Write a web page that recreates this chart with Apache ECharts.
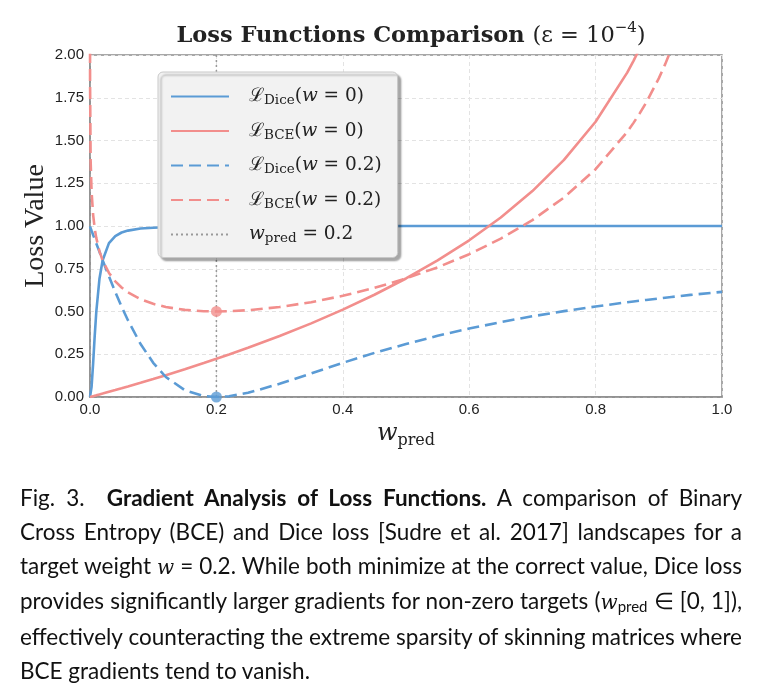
<!DOCTYPE html>
<html>
<head>
<meta charset="utf-8">
<script src="https://cdn.jsdelivr.net/npm/echarts@6/dist/echarts.min.js"></script>
<style>
  html, body { margin: 0; padding: 0; background: #fff; }
  #chart { position: absolute; left: 0; top: 0; width: 760px; height: 683px; }
  #caption {
    position: absolute; left: 20px; top: 481px; width: 722px;
    font-family: Lato, "Open Sans", sans-serif; font-size: 22.5px; line-height: 33.8px; color: #111;
  }
  #caption div { text-align: justify; text-align-last: justify; }
  #caption div.last { text-align-last: left; }
  #caption i { font-family: "DejaVu Serif", serif; font-size: 20px; }
  #caption sub { font-size: 15px; vertical-align: -3px; line-height: 0; }
</style>
</head>
<body>
<div id="chart"></div>
<div id="caption">
  <div>Fig. 3.&nbsp; <b>Gradient Analysis of Loss Functions.</b> A comparison of Binary</div>
  <div>Cross Entropy (BCE) and Dice loss [Sudre et al. 2017] landscapes for a</div>
  <div>target weight <i>w</i> = 0.2. While both minimize at the correct value, Dice loss</div>
  <div>provides significantly larger gradients for non-zero targets (<i>w</i><sub>pred</sub> ∈ [0, 1]),</div>
  <div>effectively counteracting the extreme sparsity of skinning matrices where</div>
  <div class="last">BCE gradients tend to vanish.</div>
</div>
<script>
// predicted weight samples (denser near 0 where curves change fast)
const wPred = [0, 0.0001, 0.001, 0.0025, 0.005, 0.0075, 0.01, 0.015, 0.02, 0.03, 0.04, 0.05, 0.06, 0.08,
  0.1, 0.12, 0.15, 0.18, 0.2, 0.22, 0.25, 0.3, 0.35, 0.4, 0.45, 0.5, 0.55, 0.6, 0.65, 0.7, 0.75, 0.8,
  0.85, 0.86, 0.87, 0.88, 0.9, 0.91, 0.92, 0.95, 1.0];

const diceW0 = [0, 0.0001, 0.0099, 0.059, 0.2, 0.36, 0.5, 0.692, 0.8, 0.9, 0.941, 0.962, 0.973, 0.985,
  0.99, 0.993, 0.996, 0.997, 0.998, 0.998, 0.998, 0.999, 0.999, 0.999, 0.999, 1.0, 1.0, 1.0, 1.0, 1.0, 1.0, 1.0,
  1.0, 1.0, 1.0, 1.0, 1.0, 1.0, 1.0, 1.0, 1.0];

const bceW0 = [0, 0.0001, 0.001, 0.0025, 0.005, 0.0075, 0.01, 0.0151, 0.0202, 0.0305, 0.0408, 0.0513, 0.0619, 0.0834,
  0.1054, 0.1278, 0.1625, 0.1985, 0.2231, 0.2485, 0.2877, 0.3567, 0.4308, 0.5108, 0.5978, 0.6931, 0.7985, 0.9163,
  1.0498, 1.204, 1.3863, 1.6094, 1.8971, 1.9661, 2.0402, 2.1203, 2.3026, 2.4079, 2.5257, 2.9957, 9.21];

const diceW02 = [0.998, 0.9965, 0.9875, 0.9726, 0.9477, 0.9228, 0.898, 0.8487, 0.8, 0.705, 0.614, 0.528, 0.449, 0.31,
  0.2, 0.117, 0.04, 0.0055, 0, 0.0045, 0.0244, 0.0769, 0.138, 0.2, 0.258, 0.31, 0.358, 0.4, 0.438, 0.472, 0.502, 0.529,
  0.554, 0.5587, 0.5632, 0.5677, 0.576, 0.5806, 0.5848, 0.597, 0.615];

const bceW02 = [2.76, 1.842, 1.382, 1.2003, 1.0637, 0.9846, 0.9291, 0.852, 0.7986, 0.7257, 0.6764, 0.6402, 0.6122, 0.5718,
  0.5448, 0.5263, 0.5094, 0.5018, 0.5004, 0.5016, 0.5074, 0.5261, 0.5546, 0.5919, 0.6379, 0.6931, 0.7584, 0.8352,
  0.926, 1.0345, 1.1665, 1.3321, 1.5502, 1.6031, 1.6601, 1.7218, 1.8632, 1.9452, 2.0373, 2.4069, 7.37];

const targetW = 0.2;
const yMax = 2.0;

const BLUE = "#5b9bd5";
const RED = "#f28e8c";

const chart = echarts.init(document.getElementById("chart"));
const pairs = (ys) => wPred.map((x, i) => [x, ys[i]]);
const at = wPred.indexOf(targetW);

const legendText = {
  "dice0": "{l|ℒ}{s|Dice}{l|(}{i|w}{l| = 0)}",
  "bce0": "{l|ℒ}{s|BCE}{l|(}{i|w}{l| = 0)}",
  "dice02": "{l|ℒ}{s|Dice}{l|(}{i|w}{l| = 0.2)}",
  "bce02": "{l|ℒ}{s|BCE}{l|(}{i|w}{l| = 0.2)}",
  "target": "{i|w}{s|pred}{l| = 0.2}",
};

const mathFont = "'DejaVu Serif', serif";
const tickFont = "'Liberation Sans', Arial, sans-serif";

function line(name, ys, color, dashed) {
  return {
    name, type: "line", data: pairs(ys), showSymbol: false, symbol: "none",
    clip: true, z: 3,
    lineStyle: { color, width: 2.6, type: dashed ? [12, 6] : "solid" },
    itemStyle: { color },
  };
}

chart.setOption({
  animation: false,
  title: {
    text: "{b|Loss Functions Comparison }{m|(ε = 10}{p|−4}{m|)}",
    left: 406, top: 16, textAlign: "center",
    textStyle: {
      rich: {
        b: { fontFamily: "'DejaVu Serif', serif", fontWeight: "bold", fontSize: 22.5, color: "#222", lineHeight: 30 },
        m: { fontFamily: mathFont, fontWeight: "normal", fontSize: 22.5, color: "#222", lineHeight: 30 },
        p: { fontFamily: mathFont, fontWeight: "normal", fontSize: 15, color: "#222", verticalAlign: "top", lineHeight: 30, padding: [0, 0, 12, 0] },
      },
    },
  },
  grid: { left: 90, right: 38, top: 55, bottom: 286, show: true, borderColor: "#8c8c8c", borderWidth: 1.5 },
  legend: {
    orient: "vertical", left: 158, top: 72,
    padding: [15, 16, 12, 12], itemGap: 14, itemWidth: 58, itemHeight: 16,
    backgroundColor: "#f2f2f2", borderColor: "#c8c8c8", borderWidth: 1, borderRadius: 5,
    shadowColor: "rgba(0,0,0,0.35)", shadowBlur: 2, shadowOffsetX: 3, shadowOffsetY: 3,
    itemStyle: { opacity: 0 },
    data: ["dice0", "bce0", "dice02", "bce02", "target"],
    formatter: (n) => legendText[n],
    textStyle: {
      padding: [0, 0, 0, 15],
      rich: {
        l: { fontFamily: mathFont, fontSize: 18.5, color: "#222", lineHeight: 22 },
        i: { fontFamily: mathFont, fontStyle: "italic", fontSize: 18.5, color: "#222", lineHeight: 22 },
        s: { fontFamily: mathFont, fontSize: 13.5, color: "#222", verticalAlign: "bottom", lineHeight: 22, padding: [6, 0, 0, 0] },
      },
    },
  },
  xAxis: {
    type: "value", min: 0, max: 1, interval: 0.2,
    name: "{i|w}{s|pred}", nameLocation: "middle", nameGap: 22, nameMoveOverlap: false,
    nameTextStyle: {
      rich: {
        i: { fontFamily: mathFont, fontStyle: "italic", fontSize: 24, color: "#222", lineHeight: 30 },
        s: { fontFamily: mathFont, fontSize: 16, color: "#222", verticalAlign: "bottom", lineHeight: 30, padding: [10, 0, 0, 0] },
      },
    },
    axisLine: { show: true, lineStyle: { color: "#8c8c8c", width: 1.5 } },
    axisTick: { show: false },
    axisLabel: { fontFamily: tickFont, fontSize: 15, color: "#222", margin: 5,
      formatter: (v) => v.toFixed(1) },
    splitLine: { show: true, lineStyle: { color: "#e3e3e3", type: [4, 3], width: 1 } },
  },
  yAxis: {
    type: "value", min: 0, max: yMax, interval: 0.25,
    name: "Loss Value", nameLocation: "middle", nameGap: 40, nameMoveOverlap: false,
    nameTextStyle: { fontFamily: "'Liberation Serif', serif", fontSize: 28, color: "#222" },
    axisLine: { show: true, lineStyle: { color: "#8c8c8c", width: 1.5 } },
    axisTick: { show: false },
    axisLabel: { fontFamily: tickFont, fontSize: 15, color: "#222", margin: 6,
      formatter: (v) => v.toFixed(2) },
    splitLine: { show: true, lineStyle: { color: "#e3e3e3", type: [4, 3], width: 1 } },
  },
  series: [
    line("dice0", diceW0, BLUE, false),
    line("bce0", bceW0, RED, false),
    line("dice02", diceW02, BLUE, true),
    line("bce02", bceW02, RED, true),
    {
      name: "target", type: "line", data: [[targetW, 0], [targetW, yMax]], showSymbol: false, symbol: "none", z: 1,
      lineStyle: { color: "#999", width: 1.5, type: [2, 3] }, itemStyle: { color: "#999" },
    },
    {
      type: "scatter", symbolSize: 11, z: 4, clip: false,
      data: [
        { value: [targetW, diceW02[at]], itemStyle: { color: BLUE } },
        { value: [targetW, bceW02[at]], itemStyle: { color: RED } },
      ],
    },
  ],
});
</script>
</body>
</html>
